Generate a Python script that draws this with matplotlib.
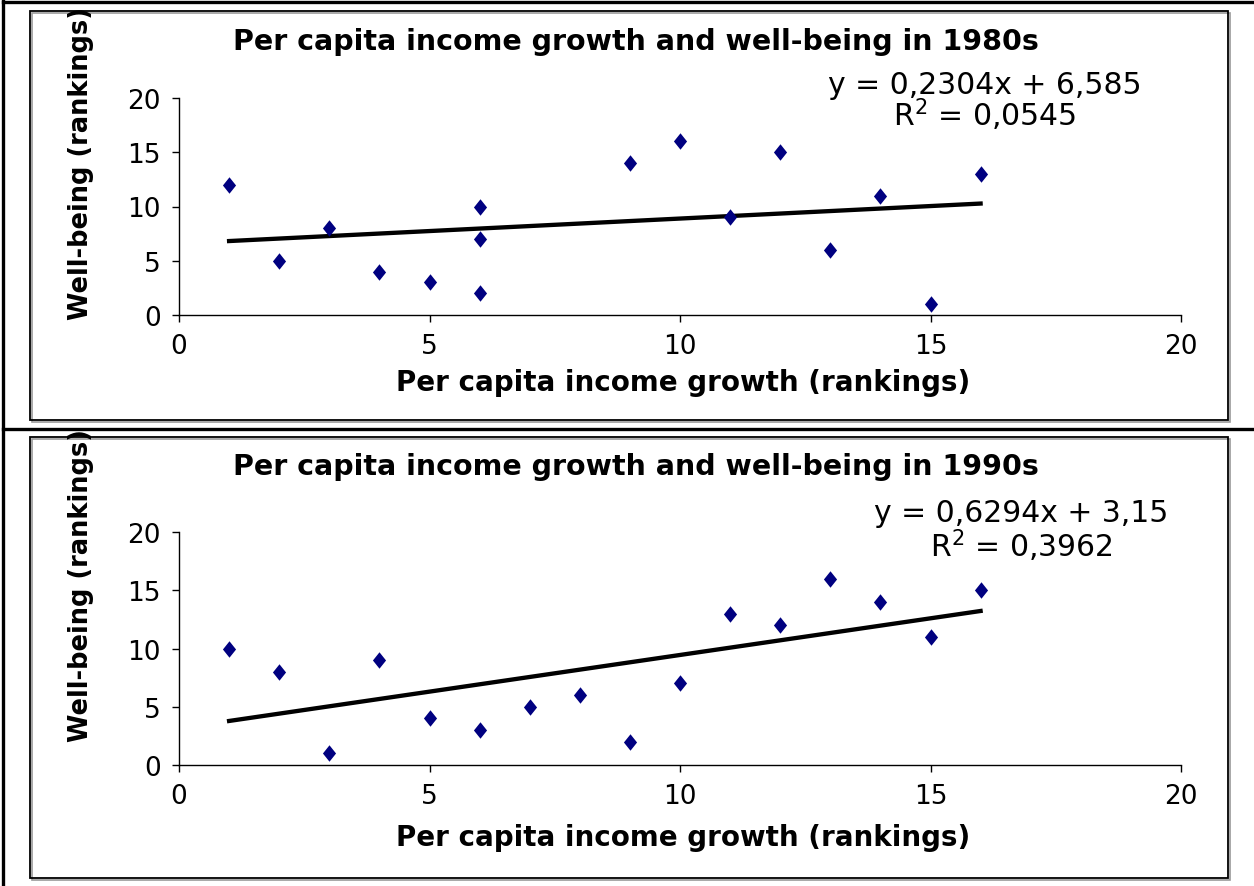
import matplotlib
matplotlib.use('Agg')
import matplotlib.pyplot as plt
from matplotlib.patches import Rectangle
from matplotlib.lines import Line2D

# rankings of per capita income growth (x) and well-being (y)
growth_80s = [1, 2, 3, 4, 5, 6, 6, 6, 9, 10, 11, 12, 13, 14, 15, 16]
wellbeing_80s = [12, 5, 8, 4, 3, 10, 7, 2, 14, 16, 9, 15, 6, 11, 1, 13]
growth_90s = [1, 2, 3, 4, 5, 6, 7, 8, 9, 10, 11, 12, 13, 14, 15, 16]
wellbeing_90s = [10, 8, 1, 9, 4, 3, 5, 6, 2, 7, 13, 12, 16, 14, 11, 15]

# linear trend lines (slope, intercept, R^2)
slopes = [0.2304, 0.6294]
intercepts = [6.585, 3.15]
r_squared = [0.0545, 0.3962]

titles = ['Per capita income growth and well-being in 1980s',
          'Per capita income growth and well-being in 1990s']
ticks = [0, 5, 10, 15, 20]

W, H = 1254, 887
fig = plt.figure(figsize=(W / 100, H / 100), dpi=100)
plt.rcParams['font.family'] = 'DejaVu Sans'


def fx(px):
    return px / W


def fy(py):
    return 1 - py / H


def comma(v):
    return str(v).replace('.', ',')


diamond = [(0, 1), (0.8, 0), (0, -1), (-0.8, 0), (0, 1)]

# page rules
fig.add_artist(Line2D([fx(3), fx(3)], [0, 1], color='black', lw=2.4, transform=fig.transFigure))
fig.add_artist(Line2D([fx(3), 1], [fy(3), fy(3)], color='black', lw=2.4, transform=fig.transFigure))
fig.add_artist(Line2D([fx(3), 1], [fy(430), fy(430)], color='black', lw=2.4, transform=fig.transFigure))

panels = [
    dict(x=growth_80s, y=wellbeing_80s, box=(12, 421), y0=316, y20=99,
         title_y=42, xlabel_y=383, ylabel_bottom=320, eq_x=985, eq_y=(85, 115)),
    dict(x=growth_90s, y=wellbeing_90s, box=(438, 879), y0=766, y20=533,
         title_y=467, xlabel_y=838, ylabel_bottom=742, eq_x=1021, eq_y=(514, 546)),
]

for i, p in enumerate(panels):
    top, bottom = p['box']
    # chart area border with a light shadow
    fig.add_artist(Rectangle((fx(32), fy(bottom + 2)), fx(1228) - fx(30), fy(top) - fy(bottom),
                             transform=fig.transFigure, fill=False, edgecolor='#9a9a9a', lw=1.2))
    fig.add_artist(Rectangle((fx(30), fy(bottom)), fx(1228) - fx(30), fy(top) - fy(bottom),
                             transform=fig.transFigure, fill=False, edgecolor='black', lw=1.3))

    ax = fig.add_axes([fx(179), fy(p['y0']), fx(1181) - fx(179), fy(p['y20']) - fy(p['y0'])])
    ax.scatter(p['x'], p['y'], marker=diamond, s=140, color='#000080', zorder=3, linewidths=0)

    xs = [min(p['x']), max(p['x'])]
    ax.plot(xs, [slopes[i] * v + intercepts[i] for v in xs], color='black', lw=3.1, zorder=2)

    ax.set_xlim(0, 20)
    ax.set_ylim(0, 20)
    ax.set_xticks(ticks)
    ax.set_yticks(ticks)
    ax.patch.set_alpha(0)
    for side in ['top', 'right']:
        ax.spines[side].set_visible(False)
    for side in ['left', 'bottom']:
        ax.spines[side].set_linewidth(1.0)
    ax.tick_params(direction='out', length=5, width=1.0, labelsize=19, pad=8)

    fig.text(fx(636), fy(p['title_y']), titles[i], ha='center', va='center',
             fontsize=20.5, fontweight='bold')
    fig.text(fx(683), fy(p['xlabel_y']), 'Per capita income growth (rankings)',
             ha='center', va='center', fontsize=20, fontweight='bold')
    fig.text(fx(81), fy(p['ylabel_bottom']), 'Well-being (rankings)', rotation=90,
             ha='center', va='bottom', fontsize=18.5, fontweight='bold')

    fig.text(fx(p['eq_x']), fy(p['eq_y'][0]),
             'y = {}x + {}'.format(comma(slopes[i]), comma(intercepts[i])),
             ha='center', va='center', fontsize=21.5)
    fig.text(fx(p['eq_x']), fy(p['eq_y'][1]), 'R$^2$ = {}'.format(comma(r_squared[i])),
             ha='center', va='center', fontsize=21.5)

fig.savefig('out.png', dpi=100)
